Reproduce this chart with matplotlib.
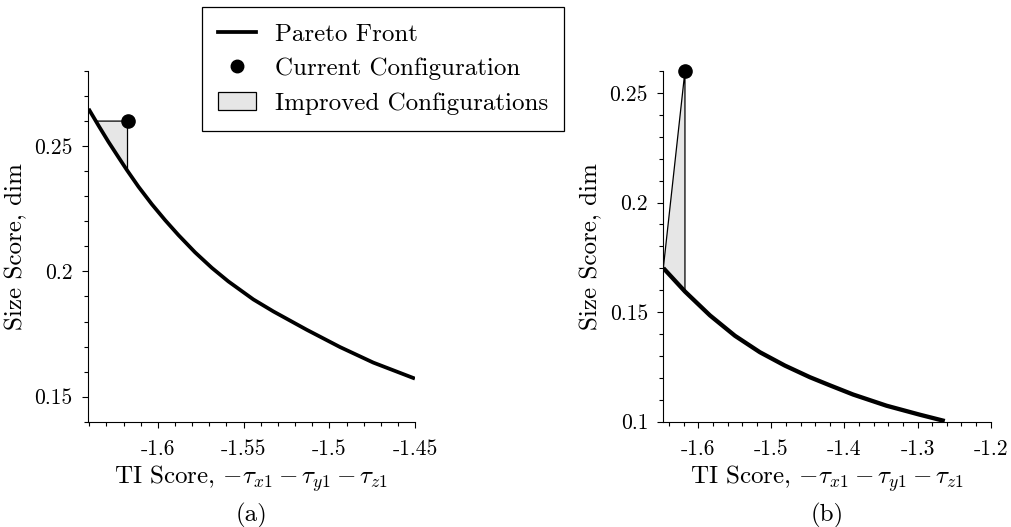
import matplotlib
matplotlib.use('Agg')
import matplotlib.pyplot as plt
import numpy as np
from matplotlib.lines import Line2D
from matplotlib.patches import Patch
from matplotlib.ticker import MultipleLocator, FuncFormatter

plt.rcParams['font.family'] = 'cmr10'
plt.rcParams['mathtext.fontset'] = 'cm'
plt.rcParams['axes.formatter.use_mathtext'] = True

# (a) pareto front, zoomed in
front_a_x = [-1.6404, -1.6346, -1.6288, -1.6230, -1.6181, -1.6113, -1.6035, -1.5957,
             -1.5880, -1.5783, -1.5685, -1.5589, -1.5443, -1.5326, -1.5132,
             -1.4938, -1.4744, -1.4501]
front_a_y = [0.2649, 0.2582, 0.2517, 0.2456, 0.2405, 0.2338, 0.2268, 0.2204,
             0.2145, 0.2076, 0.2014, 0.1960, 0.1888, 0.1840, 0.1767,
             0.1698, 0.1636, 0.1572]
current_a = (-1.6177, 0.26)

# (b) whole pareto front
front_b_x = [-1.6478, -1.6182, -1.5840, -1.5498, -1.5157, -1.4815, -1.4473, -1.4200,
             -1.3882, -1.3425, -1.2970, -1.2628]
front_b_y = [0.1701, 0.1594, 0.1485, 0.1392, 0.1317, 0.1256, 0.1203, 0.1166,
             0.1124, 0.1073, 0.1032, 0.1003]
current_b = (-1.6182, 0.26)

fill_col = '#e6e6e6'
fs = 18
tfs = 15.5


def improved_region(fx, fy, cur, clip_top):
    # region bounded by the front, the current point and its vertical drop
    fx = np.array(fx)
    fy = np.array(fy)
    y_drop = np.interp(cur[0], fx, fy)
    inside = fx < cur[0]
    if clip_top:
        # horizontal top edge at the current size score
        x_top = np.interp(-cur[1], -fy, fx)
        keep = inside & (fx > x_top)
        px = [x_top, cur[0], cur[0]] + list(fx[keep][::-1])
        py = [cur[1], cur[1], y_drop] + list(fy[keep][::-1])
    else:
        px = [fx[0], cur[0], cur[0]] + list(fx[inside][::-1])
        py = [fy[0], cur[1], y_drop] + list(fy[inside][::-1])
    return px, py


def fmt(v, pos):
    return '%g' % round(v, 3)


fig = plt.figure(figsize=(10.11, 5.27), dpi=100)
ax1 = fig.add_axes([0.0866, 0.1998, 0.324, 0.6655])
ax2 = fig.add_axes([0.6561, 0.1998, 0.3238, 0.6655])

for ax, fx, fy, cur, clip_top, lw in [
        (ax1, front_a_x, front_a_y, current_a, True, 2.7),
        (ax2, front_b_x, front_b_y, current_b, False, 3.1)]:
    ix, iy = improved_region(fx, fy, cur, clip_top)
    ax.fill(ix, iy, facecolor=fill_col, edgecolor='black', linewidth=0.9, zorder=1)
    ax.plot(fx, fy, color='black', linewidth=lw, zorder=2, solid_capstyle='butt',
            solid_joinstyle='round')
    ax.plot(cur[0], cur[1], 'o', color='black', markersize=9.5, zorder=3, clip_on=False)
    ax.spines['top'].set_visible(False)
    ax.spines['right'].set_visible(False)
    ax.xaxis.set_major_formatter(FuncFormatter(fmt))
    ax.yaxis.set_major_formatter(FuncFormatter(fmt))
    ax.tick_params(which='major', direction='out', length=4, width=0.8, labelsize=tfs, pad=7)
    ax.tick_params(axis='x', which='major', pad=9)
    ax.tick_params(which='minor', direction='out', length=3, width=0.8)
    ax.set_xlabel(r'TI Score, $-\tau_{x1}-\tau_{y1}-\tau_{z1}$', fontsize=fs, labelpad=3)
    ax.set_ylabel('Size Score, dim', fontsize=fs, labelpad=5)

ax1.set_xlim(-1.641, -1.45)
ax1.set_ylim(0.14, 0.28)
ax1.xaxis.set_major_locator(MultipleLocator(0.05))
ax1.xaxis.set_minor_locator(MultipleLocator(0.01))
ax1.yaxis.set_major_locator(MultipleLocator(0.05))
ax1.yaxis.set_minor_locator(MultipleLocator(0.01))

ax2.set_xlim(-1.6478, -1.2)
ax2.set_ylim(0.1, 0.26)
ax2.xaxis.set_major_locator(MultipleLocator(0.1))
ax2.xaxis.set_minor_locator(MultipleLocator(0.02))
ax2.yaxis.set_major_locator(MultipleLocator(0.05))
ax2.yaxis.set_minor_locator(MultipleLocator(0.01))

fig.text(0.2488, 0.0228, '(a)', ha='center', va='center', fontsize=fs)
fig.text(0.818, 0.0228, '(b)', ha='center', va='center', fontsize=fs)

handles = [Line2D([], [], color='black', linewidth=2.7),
           Line2D([], [], marker='o', color='black', linestyle='none', markersize=9),
           Patch(facecolor=fill_col, edgecolor='black', linewidth=0.9)]
labels = ['Pareto Front', 'Current Configuration', 'Improved Configurations']
leg = fig.legend(handles, labels, loc='upper left', bbox_to_anchor=(0.2, 0.987),
                 fontsize=18, frameon=True, fancybox=False, edgecolor='black',
                 framealpha=1, borderaxespad=0, handlelength=1.5, handletextpad=0.75,
                 labelspacing=0.48, borderpad=0.65)
leg.get_frame().set_linewidth(0.9)

fig.savefig('out.png', dpi=100)
